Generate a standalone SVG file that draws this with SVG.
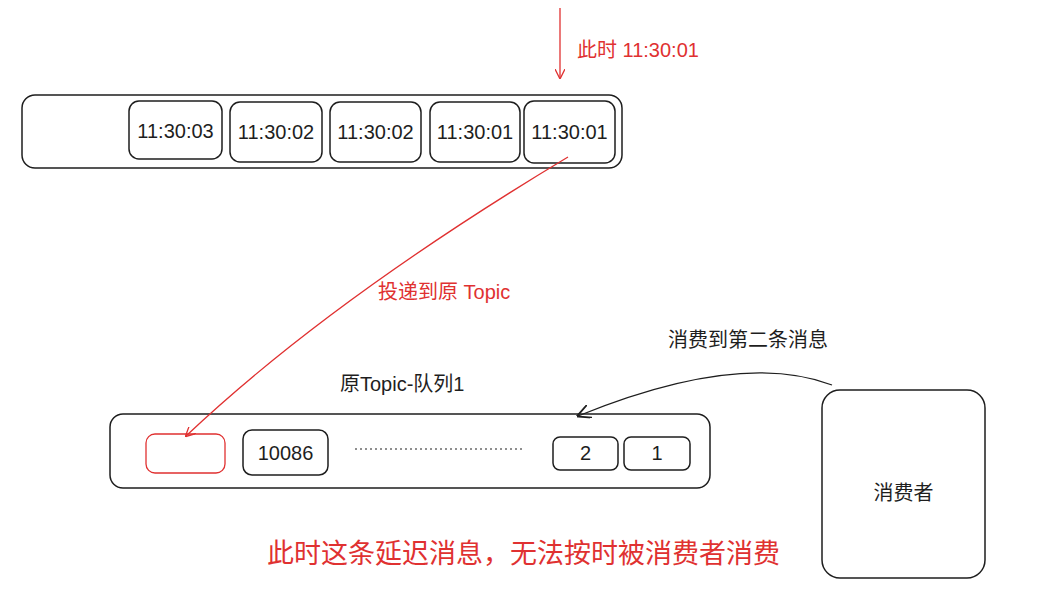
<svg xmlns="http://www.w3.org/2000/svg" width="1039" height="608" viewBox="0 0 1039 608">
<style>
.box{fill:#fff;stroke:#1e1e1e;stroke-width:1.5}
.t{font-family:"Liberation Sans","Noto Sans CJK SC",sans-serif;fill:#1e1e1e;font-size:20px}
.r{fill:#e03131}
.ln{fill:none;stroke-width:1.3}
</style>
<defs>
<marker id="ar" viewBox="0 0 10 10" refX="9" refY="5" markerWidth="10" markerHeight="10" orient="auto" markerUnits="userSpaceOnUse"><path d="M0,0 L10,5 L0,10" fill="none" stroke="#e03131" stroke-width="1.3"/></marker>
<marker id="ab" viewBox="0 0 10 10" refX="9" refY="5" markerWidth="14" markerHeight="14" orient="auto" markerUnits="userSpaceOnUse"><path d="M0,0 L10,5 L0,10" fill="none" stroke="#1e1e1e" stroke-width="1.3"/></marker>
</defs>
<rect width="1039" height="608" fill="#fff"/>
<g id="queue-top">
<rect class="box" x="22" y="95" width="600" height="73" rx="13"/>
</g>
<g id="msg-1"><rect class="box" x="129" y="101" width="93" height="58" rx="10"/><text class="t" x="175.5" y="138" text-anchor="middle">11:30:03</text></g>
<g id="msg-2"><rect class="box" x="230" y="102" width="92" height="60" rx="10"/><text class="t" x="276" y="139" text-anchor="middle">11:30:02</text></g>
<g id="msg-3"><rect class="box" x="330" y="102" width="91" height="60" rx="10"/><text class="t" x="375.5" y="139" text-anchor="middle">11:30:02</text></g>
<g id="msg-4"><rect class="box" x="430" y="102" width="90" height="60" rx="10"/><text class="t" x="475" y="139" text-anchor="middle">11:30:01</text></g>
<g id="msg-5"><rect class="box" x="524" y="101" width="91" height="62" rx="10"/><text class="t" x="569.5" y="139" text-anchor="middle">11:30:01</text></g>
<g id="queue-bottom">
<rect class="box" x="110" y="414" width="600" height="74" rx="13"/>
<text class="t" x="340" y="391">原Topic-队列1</text>
</g>
<g id="slot-empty"><rect x="146" y="434" width="79" height="39" rx="9" fill="#fff" stroke="#e03131" stroke-width="1.3"/></g>
<g id="msg-10086"><rect class="box" x="243" y="430" width="85" height="45" rx="9"/><text class="t" x="285.5" y="460" text-anchor="middle">10086</text></g>
<g id="msg-two"><rect class="box" x="553" y="437" width="65" height="33" rx="7"/><text class="t" x="585.5" y="460" text-anchor="middle">2</text></g>
<g id="msg-one"><rect class="box" x="624" y="437" width="66" height="33" rx="7"/><text class="t" x="657" y="460" text-anchor="middle">1</text></g>
<g id="consumer"><rect class="box" x="822" y="390" width="163" height="188" rx="18"/><text class="t" x="903.5" y="500" text-anchor="middle">消费者</text></g>
<g id="connectors">
<line class="ln" x1="560" y1="8" x2="560" y2="78" stroke="#e03131" marker-end="url(#ar)"/>
<path class="ln" d="M568,157 Q330,300 186,436" stroke="#e03131" marker-end="url(#ar)"/>
<path class="ln" d="M832,385 Q740,350 578,416" stroke="#1e1e1e" marker-end="url(#ab)"/>
<line x1="355" y1="449" x2="525" y2="449" stroke="#1e1e1e" stroke-width="1" stroke-dasharray="2,3"/>
</g>
<g id="labels">
<text class="t r" x="577" y="57">此时 11:30:01</text>
<text class="t r" x="378" y="299">投递到原 Topic</text>
<text class="t" x="668" y="347">消费到第二条消息</text>
<text class="t r" x="267" y="563" style="font-size:27px">此时这条延迟消息，无法按时被消费者消费</text>
</g>
</svg>
